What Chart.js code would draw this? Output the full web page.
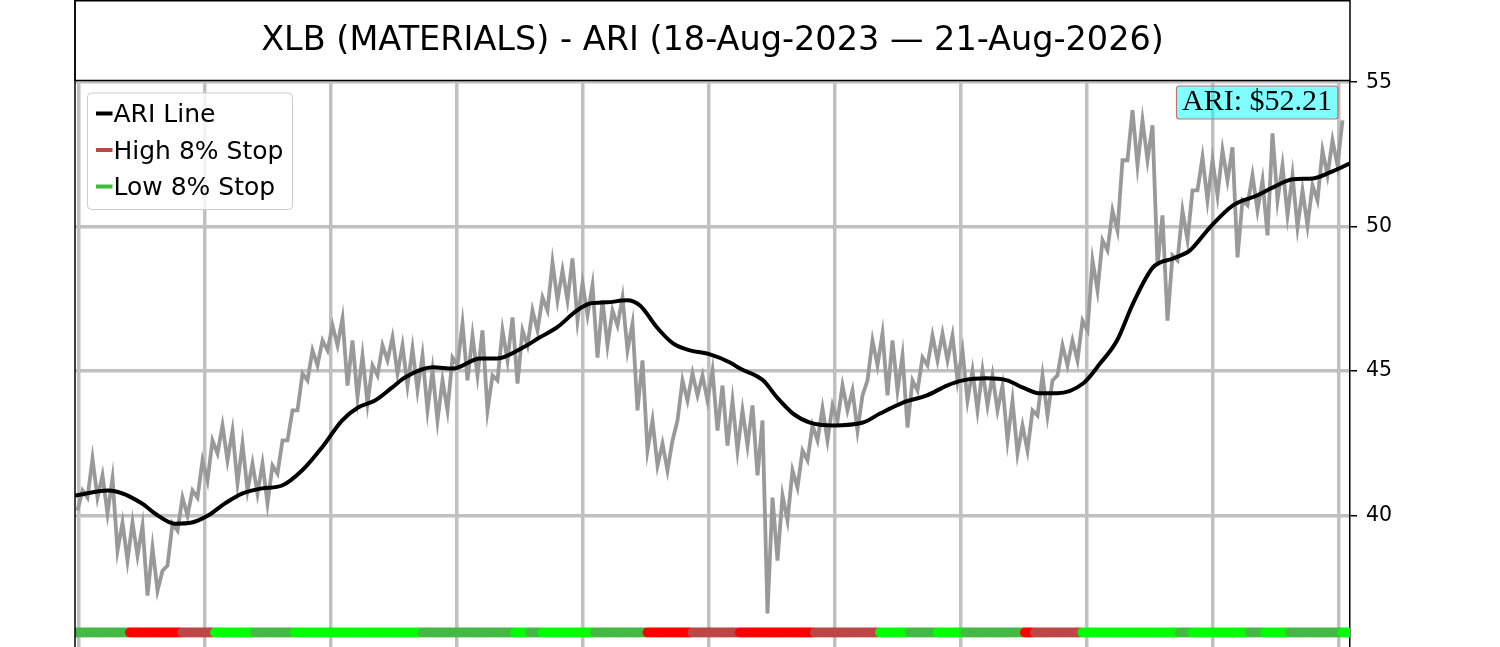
<!DOCTYPE html>
<html>
<head>
<meta charset="utf-8">
<title>XLB (MATERIALS) - ARI</title>
<script src="https://cdn.jsdelivr.net/npm/chart.js"></script>
<style>
  html, body { margin: 0; padding: 0; background: #fff; overflow: hidden; }
  #wrap { width: 1500px; height: 647px; }
</style>
</head>
<body>
<div id="wrap"><canvas id="ariChart" width="1500" height="647"></canvas></div>
<script>

// price range per ~10px slot (low / high)
var binLow = [
  40.17, 40.62, 40.62, 40.07, 38.79, 38.44, 38.61, 37.23, 37.40, 38.27,
  39.48, 40.00, 40.62, 41.21, 42.15, 41.91, 41.11, 40.87, 40.76, 40.42,
  41.45, 42.60, 43.64, 44.68, 45.20, 45.72, 45.89, 44.50, 44.09, 43.88,
  44.85, 45.37, 44.92, 44.50, 44.33, 43.64, 43.29, 43.64, 45.20, 44.68,
  44.85, 43.64, 44.68, 45.37, 44.57, 45.89, 46.41, 47.10, 47.45, 47.45,
  46.75, 46.93, 45.47, 45.89, 46.58, 45.72, 43.64, 42.25, 41.73, 41.56,
  43.29, 43.98, 44.16, 43.98, 42.94, 42.42, 42.25, 42.42, 41.39, 36.61,
  38.44, 39.83, 40.97, 41.91, 42.60, 42.60, 43.29, 43.64, 42.94, 44.68,
  45.20, 44.16, 44.33, 43.05, 44.33, 45.20, 45.37, 45.37, 44.68, 43.98,
  43.64, 43.81, 43.64, 42.60, 42.15, 42.25, 43.46, 43.46, 44.85, 45.20,
  45.37, 46.41, 47.79, 49.18, 49.87, 52.30, 52.12, 52.30, 48.66, 46.75,
  48.83, 49.53, 51.26, 50.91, 51.08, 51.60, 48.94, 50.74, 50.56, 49.70,
  50.91, 50.39, 49.98, 50.04, 50.91, 51.78, 52.12
];
var binHigh = [
  40.87, 41.97, 41.39, 41.28, 39.76, 39.76, 39.65, 38.89, 38.09, 39.72,
  40.62, 40.87, 41.91, 42.60, 43.12, 42.94, 42.49, 41.80, 41.80, 41.73,
  42.60, 43.64, 44.92, 45.72, 46.06, 46.58, 46.82, 46.06, 45.54, 45.20,
  45.89, 46.17, 45.89, 45.78, 45.54, 45.02, 44.68, 45.47, 46.65, 46.23,
  46.41, 44.85, 46.41, 46.86, 46.41, 47.10, 47.55, 48.76, 48.49, 48.90,
  48.04, 47.97, 47.45, 47.10, 47.55, 46.65, 45.37, 43.29, 42.49, 42.60,
  44.68, 44.92, 44.85, 45.02, 44.50, 43.98, 43.64, 43.81, 43.29, 40.62,
  40.69, 41.56, 42.25, 43.12, 43.71, 43.81, 44.50, 44.33, 44.16, 46.06,
  46.30, 46.06, 45.54, 44.68, 45.47, 46.23, 46.30, 46.23, 45.72, 45.02,
  45.02, 44.85, 44.50, 43.98, 43.12, 43.64, 44.85, 44.68, 45.89, 46.06,
  46.75, 48.83, 49.53, 50.56, 52.30, 54.03, 53.68, 53.51, 50.39, 49.00,
  50.56, 51.26, 52.40, 52.30, 52.64, 52.75, 50.91, 51.78, 51.60, 53.23,
  52.12, 51.78, 51.26, 51.43, 52.64, 52.99, 53.68
];

// ARI line
var ariX = [
  -0.5, 2.8, 6.2, 7.5, 9.5, 11.2, 12.8, 14.5, 16.2, 18.2,
  20.2, 22.2, 24.2, 26.2, 27.8, 29.5, 31.2, 32.5, 35.3, 37.3,
  40.0, 41.7, 44.3, 46.0, 47.7, 49.7, 51.0, 52.7, 54.7, 56.0,
  57.7, 59.3, 61.0, 63.0, 65.0, 66.0, 68.3, 69.7, 71.3, 73.0,
  75.3, 78.3, 80.0, 82.3, 84.7, 86.7, 88.3, 90.7, 92.7, 94.3,
  96.0, 97.7, 100.3, 102.0, 103.7, 105.3, 107.3, 109.3, 111.0, 113.0,
  115.3, 117.7, 119.3, 121.3, 123.3, 125.0, 127.0
];
var ariVal = [
  40.69, 40.87, 40.42, 40.07, 39.72, 39.76, 40.00, 40.42, 40.76, 40.94,
  41.04, 41.56, 42.36, 43.29, 43.74, 43.98, 44.43, 44.78, 45.13, 45.09,
  45.44, 45.44, 45.82, 46.17, 46.51, 47.10, 47.34, 47.38, 47.45, 47.27,
  46.51, 45.96, 45.72, 45.58, 45.30, 45.09, 44.68, 44.09, 43.53, 43.22,
  43.12, 43.22, 43.53, 43.91, 44.16, 44.50, 44.68, 44.75, 44.68, 44.43,
  44.23, 44.23, 44.57, 45.26, 46.06, 47.34, 48.59, 48.90, 49.18, 49.98,
  50.74, 51.08, 51.36, 51.64, 51.67, 51.88, 52.19
];

// stop state strip: slot where each state starts
var stripStart = [-0.6, 4.4, 9.7, 12.8, 16.9, 20.9, 33.6, 43.0, 44.3, 45.7,
  50.8, 56.1, 60.6, 65.3, 72.9, 79.4, 82.3, 85.2, 87.9, 93.9,
  94.8, 99.7, 109.3, 110.7, 116.5, 118.0, 120.5, 125.6];
var stripState = ['DG', 'R', 'DR', 'G', 'DG', 'G', 'DG', 'G', 'DG', 'G',
  'DG', 'R', 'DR', 'R', 'DR', 'G', 'DG', 'G', 'DG', 'R',
  'DR', 'G', 'DG', 'G', 'DG', 'G', 'DG', 'G'];
var stripLevel = 35.95;

var yTicks = [40, 45, 50, 55];
var xTicks = [-0.1, 12.5, 25.1, 37.7, 50.3, 62.9, 75.5, 88.1, 100.7, 113.3, 125.9];

var titleText = "XLB (MATERIALS) - ARI (18-Aug-2023 \u2014 21-Aug-2026)";
var ariLabel = "ARI: $52.21";
var legendNames = ["ARI Line", "High 8% Stop", "Low 8% Stop"];
var legendColors = ["#000000", "#bd4646", "#3dbd3d"];
var stateColors = { R: "#ff0000", DR: "#bd4646", G: "#00ff00", DG: "#45b945" };

Chart.defaults.font.family = "'DejaVu Sans', sans-serif";
Chart.defaults.color = "#000";

var priceData = [];
for (var i = 0; i < binLow.length; i++) {
  priceData.push({ x: i - 0.25, y: binLow[i] });
  priceData.push({ x: i + 0.25, y: binHigh[i] });
}

var ariData = ariX.map((x, i) => ({ x: x, y: ariVal[i] }));

function stripColor(p) {
  var s = stripState[0];
  for (var k = 0; k < stripStart.length; k++) {
    if (p - 0.5 >= stripStart[k]) s = stripState[k];
  }
  return stateColors[s];
}

var stripData = [];
var stripColors = [];
for (var n = 0; n <= 510; n++) {
  var p = -0.5 + n * 0.25;
  stripData.push({ x: p, y: stripLevel });
  stripColors.push(stripColor(p));
}

// title box, left frame, legend and ARI badge
var framePlugin = {
  id: 'frame',
  afterDraw(chart) {
    var ctx = chart.ctx;
    var a = chart.chartArea;
    ctx.save();
    ctx.strokeStyle = '#000';
    ctx.lineWidth = 1.5;
    ctx.strokeRect(a.left, 0.75, a.right - a.left, a.top - 0.75);
    ctx.beginPath();
    ctx.moveTo(a.left, 0);
    ctx.lineTo(a.left, a.bottom);
    ctx.stroke();

    // legend
    ctx.beginPath();
    ctx.roundRect(87.5, 93, 205, 116.5, 4);
    ctx.fillStyle = 'rgba(255,255,255,0.8)';
    ctx.fill();
    ctx.strokeStyle = '#cccccc';
    ctx.lineWidth = 1;
    ctx.stroke();
    ctx.font = "25px 'DejaVu Sans'";
    ctx.textBaseline = 'alphabetic';
    for (var k = 0; k < legendNames.length; k++) {
      var ly = 113.5 + k * 36.5;
      ctx.beginPath();
      ctx.moveTo(96, ly);
      ctx.lineTo(112.5, ly);
      ctx.strokeStyle = legendColors[k];
      ctx.lineWidth = 4;
      ctx.stroke();
      ctx.fillStyle = '#000';
      ctx.fillText(legendNames[k], 113.5, 122.3 + k * 36.4);
    }

    // ARI badge
    ctx.beginPath();
    ctx.roundRect(1176.5, 86, 161.5, 33, 3);
    ctx.fillStyle = 'rgba(0,255,255,0.5)';
    ctx.fill();
    ctx.strokeStyle = '#c87070';
    ctx.lineWidth = 1.2;
    ctx.stroke();
    ctx.fillStyle = '#000';
    ctx.font = "30px 'Liberation Serif'";
    ctx.textAlign = 'center';
    ctx.fillText(ariLabel, 1257, 110);
    ctx.restore();
  }
};

var ctxAri = document.getElementById('ariChart').getContext('2d');
var ariChart = new Chart(ctxAri, {
  type: 'line',
  data: {
    datasets: [{
      label: legendNames[0],
      data: ariData,
      borderColor: '#000',
      borderWidth: 4,
      pointRadius: 0,
      cubicInterpolationMode: 'monotone',
      order: 0
    }, {
      label: 'Stop state',
      data: stripData,
      showLine: false,
      pointRadius: 5,
      pointBorderWidth: 0,
      pointBackgroundColor: stripColors,
      clip: 0,
      order: 1
    }, {
      label: 'Price',
      data: priceData,
      borderColor: '#999999',
      borderWidth: 3.8,
      pointRadius: 0,
      tension: 0,
      order: 2
    }]
  },
  options: {
    responsive: false,
    animation: false,
    devicePixelRatio: 1,
    layout: { autoPadding: false, padding: { left: 75, right: 0, top: 0, bottom: 0 } },
    plugins: {
      legend: { display: false },
      tooltip: { enabled: false },
      title: {
        display: true,
        text: titleText,
        fullSize: false,
        color: '#000',
        font: { size: 33.5, weight: 'normal', lineHeight: 1.2 },
        padding: { top: 21, bottom: 19.3 }
      }
    },
    scales: {
      x: {
        type: 'linear',
        min: -0.5,
        max: 127,
        afterFit: function(s) { s.height = 0; },
        afterBuildTicks: function(s) { s.ticks = xTicks.map(v => ({ value: v })); },
        ticks: { display: false },
        grid: { color: '#c0c0c0', lineWidth: 3.5, drawTicks: false },
        border: { display: false }
      },
      y: {
        position: 'right',
        min: 35.45,
        max: 55.06,
        afterFit: function(s) {
          s.width = 150;
          s.paddingTop = 0;
          s.paddingBottom = 0;
        },
        afterBuildTicks: function(s) { s.ticks = yTicks.map(v => ({ value: v })); },
        ticks: { color: '#000', font: { size: 20.5 }, padding: 9 },
        grid: { color: '#c0c0c0', lineWidth: 3.5, tickColor: '#000', tickWidth: 1.5, tickLength: 7 },
        border: { display: true, color: '#000', width: 1.5 }
      }
    }
  },
  plugins: [framePlugin]
});

</script>
</body>
</html>
